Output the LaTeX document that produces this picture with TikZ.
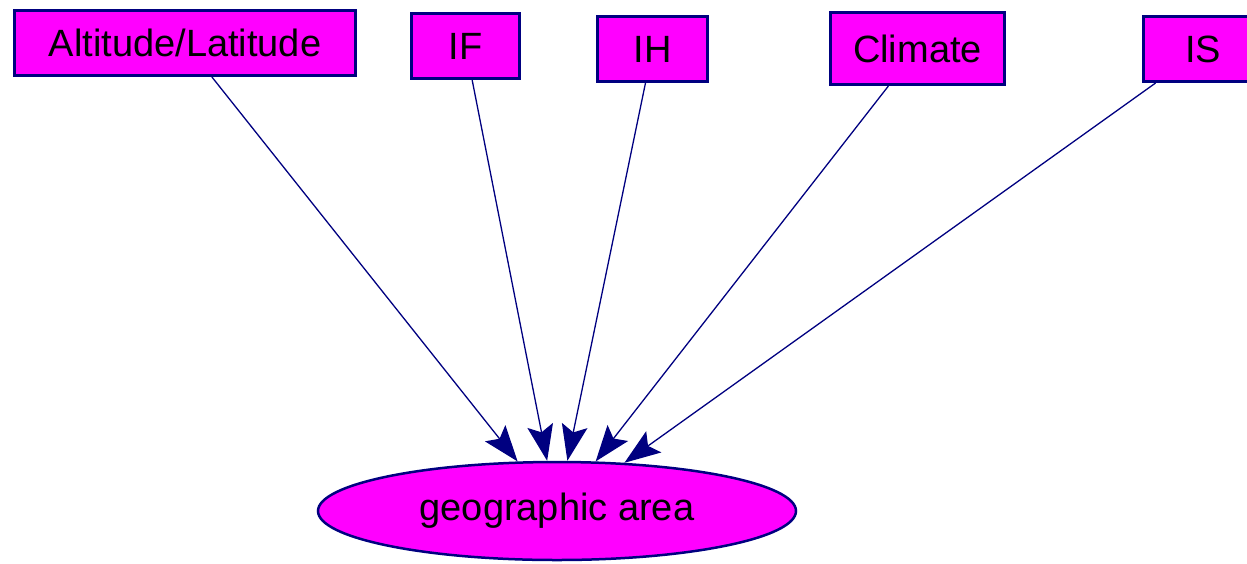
\documentclass[tikz,border=0pt]{standalone}
\usepackage{fontspec}
\setmainfont{Liberation Sans}
\usetikzlibrary{shapes.geometric,arrows.meta}
\definecolor{netnavy}{HTML}{000080}
\definecolor{netmagenta}{HTML}{FF00FF}
\begin{document}
\begin{tikzpicture}[x=1pt,y=-1pt]
        \useasboundingbox (0,0) rectangle (1247,563);
        \begin{scope}[every node/.style={rectangle,draw=netnavy,line width=3pt,fill=netmagenta,inner sep=0pt,minimum height=65pt,font=\fontsize{38}{44}\selectfont}]
            \node[minimum width=341pt] (alt) at (185,43) {Altitude/Latitude};
            \node[minimum width=108pt] (if) at (465.5,46) {IF};
            \node[minimum width=110pt] (ih) at (652.5,49) {IH};
            \node[minimum width=174pt,minimum height=72pt] (climate) at (917.5,48.5) {Climate};
            \node[minimum width=120pt] (is) at (1203,49) {IS};
        \end{scope}
        \node[ellipse,draw=netnavy,line width=2.5pt,fill=netmagenta,inner sep=0pt,minimum width=478pt,minimum height=98pt,font=\fontsize{38}{44}\selectfont] (geo) at (557,511) {geographic area};
        \begin{scope}[every edge/.style={draw=netnavy,line width=1.3pt,-{Stealth[length=36pt,width=26pt,inset=7pt]}}]
            \path
                (alt) edge (geo)
                (if) edge (geo)
                (ih) edge (geo)
                (climate) edge (geo)
                (is) edge (geo);
        \end{scope}
    \end{tikzpicture}
\end{document}
